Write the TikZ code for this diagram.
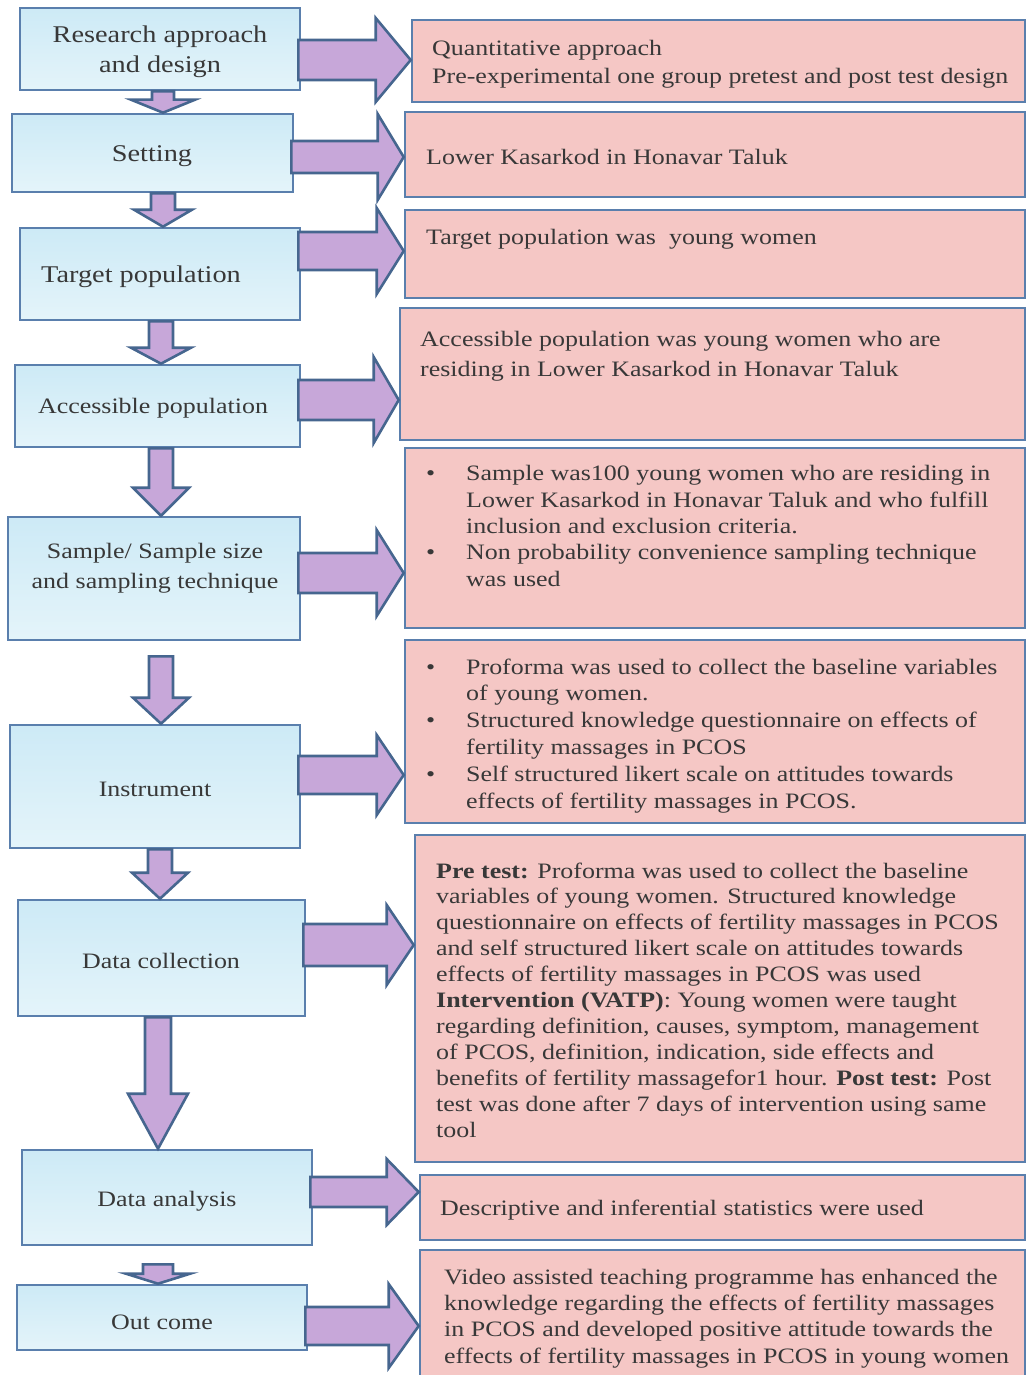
\documentclass[tikz,border=0pt]{standalone}
\usepackage{fontspec}
\setmainfont{Liberation Serif}[FakeStretch=1.18]
\usetikzlibrary{calc}
\usetikzlibrary{fit}

\definecolor{boxline}{HTML}{5A7FAD}
\definecolor{boxtop}{HTML}{CDEAF6}
\definecolor{boxbot}{HTML}{E4F4FA}
\definecolor{pinkfill}{HTML}{F5C7C5}
\definecolor{arrfill}{HTML}{C7A7D9}
\definecolor{arrline}{HTML}{46668F}
\definecolor{txt}{HTML}{383838}

\tikzset{
 leftbox/.style={draw=boxline, line width=2.6, top color=boxtop, bottom color=boxbot, inner sep=0},
 pinkbox/.style={draw=boxline, line width=2.6, fill=pinkfill, inner sep=0},
 blockarr/.style={draw=arrline, line width=2.6, fill=arrfill, line join=miter},
 lefttext/.style={text=txt, font=\fontsize{22}{30}\selectfont, align=center, inner sep=0},
 bigtext/.style={lefttext, font=\fontsize{24}{30}\selectfont},
 righttext/.style={text=txt, font=\fontsize{22}{26}\selectfont, align=left, inner sep=0, anchor=base west},
}

% block arrow to the right: from, to, y, shaft half, head half, head length
\newcommand{\rarr}[6]{%
 \draw[blockarr] ($(#1.east |- 0,#3)+(-3,-#4)$) -- ($(#2.west |- 0,#3)+(-#6,-#4)$)
  -- ($(#2.west |- 0,#3)+(-#6,-#5)$) -- (#2.west |- 0,#3) -- ($(#2.west |- 0,#3)+(-#6,#5)$)
  -- ($(#2.west |- 0,#3)+(-#6,#4)$) -- ($(#1.east |- 0,#3)+(-3,#4)$) -- cycle;}
% block arrow downwards: from, to, x, shaft half, head half, head length, gap
\newcommand{\darr}[7]{%
 \draw[blockarr] ($(#3,0 |- #1.south)+(-#4,#7)$) -- ($(#3,0 |- #2.north)+(-#4,-#6)$)
  -- ($(#3,0 |- #2.north)+(-#5,-#6)$) -- (#3,0 |- #2.north) -- ($(#3,0 |- #2.north)+(#5,-#6)$)
  -- ($(#3,0 |- #2.north)+(#4,-#6)$) -- ($(#3,0 |- #1.south)+(#4,#7)$) -- cycle;}
\newcommand{\bul}{\makebox[40pt][l]{\textbullet}}
\newcommand{\ind}{\hspace*{40pt}}

\begin{document}
\begin{tikzpicture}[x=1pt, y=-1pt]
\useasboundingbox (0,0) rectangle (1027,1375);

% left column
\node[leftbox, fit={(20,8) (300,90)}] (l1) {};
\node[leftbox, fit={(12,114) (293,192)}] (l2) {};
\node[leftbox, fit={(20,228) (300,320)}] (l3) {};
\node[leftbox, fit={(15,365) (300,447)}] (l4) {};
\node[leftbox, fit={(8,517) (300,640)}] (l5) {};
\node[leftbox, fit={(10,725) (300,848)}] (l6) {};
\node[leftbox, fit={(18,900) (305,1016)}] (l7) {};
\node[leftbox, fit={(22,1150) (312,1245)}] (l8) {};
\node[leftbox, fit={(17,1285) (307,1350)}] (l9) {};

\node[bigtext] (t1) at (160,52) {Research approach\\and design};
\node[bigtext] (t2) at (152,156) {Setting};
\node[bigtext] (t3) at (141,277) {Target population};
\node[lefttext] (t4) at (153,408) {Accessible population};
\node[lefttext] (t5) at (155,568) {Sample/ Sample size\\and sampling technique};
\node[lefttext] (t6) at (155,789) {Instrument};
\node[lefttext] (t7) at (161,961) {Data collection};
\node[lefttext] (t8) at (167,1201) {Data analysis};
\node[lefttext] (t9) at (162,1322) {Out come};

% right column
\node[pinkbox, fit={(412,20) (1025,102)}] (r1) {};
\node[pinkbox, fit={(405,112) (1025,197)}] (r2) {};
\node[pinkbox, fit={(405,210) (1025,298)}] (r3) {};
\node[pinkbox, fit={(400,308) (1025,440)}] (r4) {};
\node[pinkbox, fit={(405,448) (1025,628)}] (r5) {};
\node[pinkbox, fit={(405,640) (1025,823)}] (r6) {};
\node[pinkbox, fit={(415,835) (1025,1162)}] (r7) {};
\node[pinkbox, fit={(420,1175) (1025,1240)}] (r8) {};
\node[pinkbox, fit={(420,1250) (1025,1385)}] (r9) {};

% base anchor sits on the last line
\node[righttext, font=\fontsize{22}{28}\selectfont] (s1) at (432,84) {Quantitative approach\\Pre-experimental one group pretest and post test design};
\node[righttext] (s2) at (426,165) {Lower Kasarkod in Honavar Taluk};
\node[righttext] (s3) at (426,244) {Target population was\ \ young women};
\node[righttext, font=\fontsize{22}{30}\selectfont] (s4) at (420,376) {Accessible population was young women who are\\residing in Lower Kasarkod in Honavar Taluk};
\node[righttext, font=\fontsize{22}{26.3}\selectfont] (s5) at (426,586) {\bul Sample was100 young women who are residing in\\\ind Lower Kasarkod in Honavar Taluk and who fulfill\\\ind inclusion and exclusion criteria.\\\bul Non probability convenience sampling technique\\\ind was used};
\node[righttext, font=\fontsize{22}{26.8}\selectfont] (s6) at (426,808) {\bul Proforma was used to collect the baseline variables\\\ind of young women.\\\bul Structured knowledge questionnaire on effects of\\\ind fertility massages in PCOS\\\bul Self structured likert scale on attitudes towards\\\ind effects of fertility massages in PCOS.};
\node[righttext, font=\fontsize{22}{25.9}\selectfont] (s7) at (436,1137) {\textbf{Pre test:} Proforma was used to collect the baseline\\variables of young women. Structured knowledge\\questionnaire on effects of fertility massages in PCOS\\and self structured likert scale on attitudes towards\\effects of fertility massages in PCOS was used\\\textbf{Intervention (VATP)}: Young women were taught\\regarding definition, causes, symptom, management\\of PCOS, definition, indication, side effects and\\benefits of fertility massagefor1 hour. \textbf{Post test:} Post\\test was done after 7 days of intervention using same\\tool};
\node[righttext] (s8) at (440,1215) {Descriptive and inferential statistics were used};
\node[righttext, font=\fontsize{22}{26.3}\selectfont] (s9) at (444,1363) {Video assisted teaching programme has enhanced the\\knowledge regarding the effects of fertility massages\\in PCOS and developed positive attitude towards the\\effects of fertility massages in PCOS in young women};

% arrows to the right
\rarr{l1}{r1}{60}{20}{42}{35}
\rarr{l2}{r2}{157}{16}{43}{26}
\rarr{l3}{r3}{251}{19}{43}{27}
\rarr{l4}{r4}{400}{20}{43}{25}
\rarr{l5}{r5}{573}{20}{43}{27}
\rarr{l6}{r6}{775}{19}{40}{27}
\rarr{l7}{r7}{945}{21}{40}{27}
\rarr{l8}{r8}{1192}{15}{33}{32}
\rarr{l9}{r9}{1326}{19}{42}{30}

% arrows down
\darr{l1}{l2}{163}{11}{32}{13}{0}
\darr{l2}{l3}{163}{12}{29}{17}{0}
\darr{l3}{l4}{161}{12}{30}{16}{0}
\darr{l4}{l5}{161}{12}{28}{28}{0}
\darr{l5}{l6}{161}{12}{28}{26}{15}
\darr{l6}{l7}{160}{12}{28}{26}{0}
\darr{l7}{l8}{158}{13}{30}{55}{0}
\darr{l8}{l9}{158}{15}{32}{10}{18}
\end{tikzpicture}
\end{document}
